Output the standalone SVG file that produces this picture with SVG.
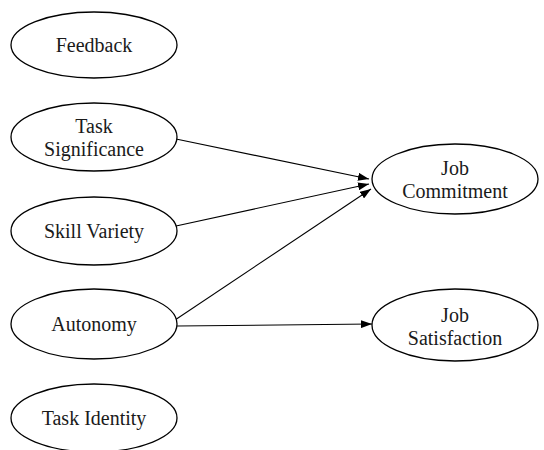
<svg xmlns="http://www.w3.org/2000/svg" width="544" height="450" viewBox="0 0 544 450">
<style>
.nd ellipse{fill:#fff;stroke:#000;stroke-width:1.3}
.lbl{font-family:'Liberation Serif',serif;font-size:20px;fill:#1a1a1a;text-anchor:middle}
.cn line{stroke:#000;stroke-width:1.1}
</style>
<defs>
<marker id="arr" markerUnits="userSpaceOnUse" markerWidth="12" markerHeight="8" refX="11" refY="4" orient="auto">
<path d="M0,0 L11,4 L0,8 Z" fill="#000"/>
</marker>
</defs>
<rect width="544" height="450" fill="#fff"/>
<g id="edges" class="cn">
<line x1="176" y1="139" x2="369" y2="179" marker-end="url(#arr)"/>
<line x1="176" y1="226" x2="369" y2="184" marker-end="url(#arr)"/>
<line x1="175" y1="320" x2="371" y2="189" marker-end="url(#arr)"/>
<line x1="177" y1="326" x2="372" y2="324" marker-end="url(#arr)"/>
</g>
<g id="feedback" class="nd"><ellipse cx="94" cy="45" rx="83" ry="33"/><text class="lbl" x="94" y="52" font-family="Liberation Serif">Feedback</text></g>
<g id="task_significance" class="nd"><ellipse cx="94" cy="137" rx="83" ry="34"/><text class="lbl" x="94" y="133" font-family="Liberation Serif">Task</text><text class="lbl" x="94" y="156" font-family="Liberation Serif">Significance</text></g>
<g id="skill_variety" class="nd"><ellipse cx="94" cy="231" rx="83" ry="34"/><text class="lbl" x="94" y="238" font-family="Liberation Serif">Skill Variety</text></g>
<g id="autonomy" class="nd"><ellipse cx="94" cy="324" rx="83" ry="35"/><text class="lbl" x="94" y="331" font-family="Liberation Serif">Autonomy</text></g>
<g id="task_identity" class="nd"><ellipse cx="94" cy="418" rx="83" ry="34"/><text class="lbl" x="94" y="425" font-family="Liberation Serif">Task Identity</text></g>
<g id="job_commitment" class="nd"><ellipse cx="455" cy="179" rx="83" ry="35"/><text class="lbl" x="455" y="175" font-family="Liberation Serif">Job</text><text class="lbl" x="455" y="198" font-family="Liberation Serif">Commitment</text></g>
<g id="job_satisfaction" class="nd"><ellipse cx="455" cy="325" rx="83" ry="36"/><text class="lbl" x="455" y="322" font-family="Liberation Serif">Job</text><text class="lbl" x="455" y="345" font-family="Liberation Serif">Satisfaction</text></g>
</svg>
